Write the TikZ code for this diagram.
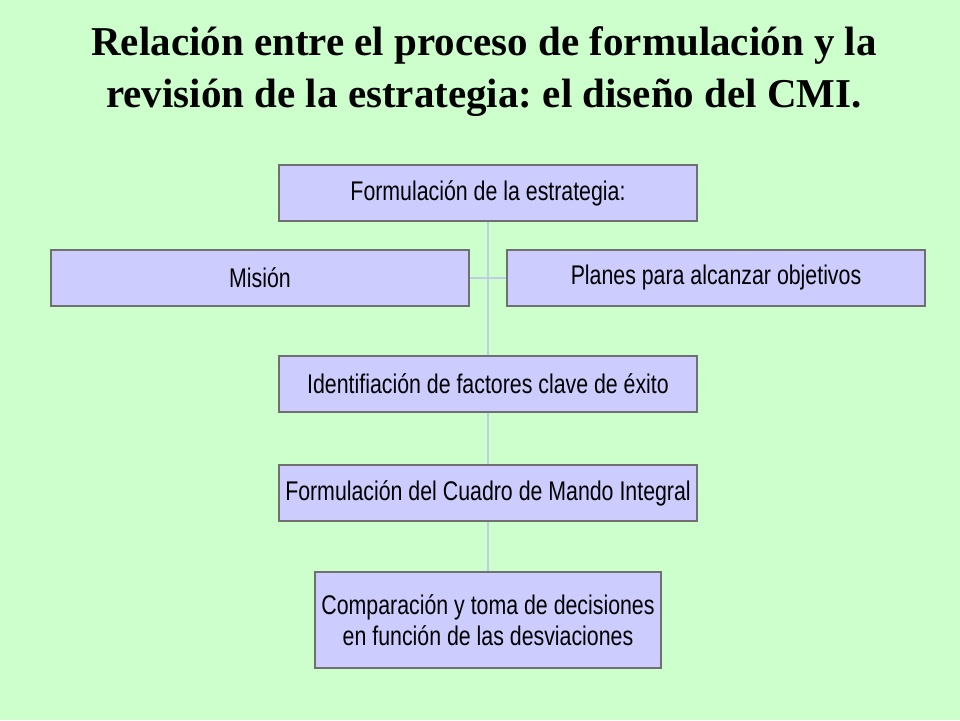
\documentclass[tikz,border=0pt]{standalone}
\usepackage{fontspec}
\setmainfont{Liberation Serif}
\newfontfamily\boxfont[FakeStretch=0.79]{Liberation Sans}
\usetikzlibrary{positioning,calc}
\definecolor{bggreen}{RGB}{204,255,204}
\definecolor{boxblue}{RGB}{204,204,255}
\definecolor{boxline}{RGB}{112,112,112}
\definecolor{linkblue}{RGB}{190,206,228}
\frenchspacing

\begin{document}
\begin{tikzpicture}[
    x=1pt,y=-1pt,
    stage/.style={draw=boxline,line width=1.5pt,fill=boxblue,minimum width=418pt,minimum height=56pt,align=center,font=\boxfont\fontsize{27}{31}\selectfont},
    link/.style={draw=linkblue,line width=1.5pt}
  ]
    % Background
    \fill[bggreen] (0,0) rectangle (960,720);
    \useasboundingbox (0,0) rectangle (960,720);
    
    % Title
    \node[font=\bfseries\fontsize{41}{52}\selectfont,align=center] (title) at (484,72) {Relación entre el proceso de formulación y la\\revisión de la estrategia: el diseño del CMI.};
    
    % Connectors behind the boxes
    \coordinate (join) at (488,278);
    \coordinate (top) at (488,193);
    \coordinate (bottom) at (488,620);
    \draw[link] (top) -- (bottom);
    
    % Stages
    \node[stage] (strat) at (488,193) {Formulación de la estrategia:};
    \node[stage] (mision) at (260,278) {Misión};
    \node[stage] (planes) at (716,278) {Planes para alcanzar objetivos};
    \node[stage] (factores) at (488,384) {Identifiación de factores clave de éxito};
    \node[stage] (cmi) at (488,493) {Formulación del Cuadro de Mando Integral};
    \node[stage,minimum width=346pt,minimum height=96pt] (comparacion) at (488,620) {Comparación y toma de decisiones\\en función de las desviaciones};
    
    % Side branches
    \draw[link] (mision.east) -- (join) -- (planes.west);
\end{tikzpicture}
\end{document}
